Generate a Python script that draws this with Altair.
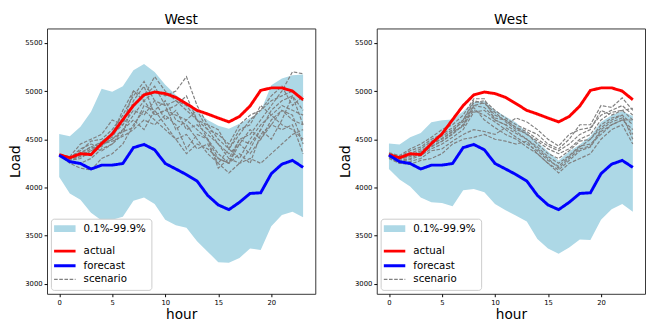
import altair as alt
import pandas as pd

hours = list(range(24))

actual = [4340, 4307, 4350, 4340, 4455, 4555, 4703, 4850, 4960, 4990, 4974, 4934,
          4868, 4800, 4762, 4720, 4680, 4736, 4845, 5007, 5033, 5033, 5000, 4910]
forecast = [4335, 4267, 4248, 4191, 4231, 4231, 4248, 4413, 4446, 4390, 4248, 4191,
            4132, 4066, 3917, 3818, 3769, 3845, 3937, 3944, 4142, 4241, 4280, 4208]

left_hi = [4554, 4531, 4630, 4785, 5023, 4993, 5050, 5215, 5281, 5198, 5066, 4960,
           4880, 4790, 4700, 4640, 4610, 4660, 4720, 4790, 5060, 5130, 5165, 5172]
left_lo = [4109, 3937, 3871, 3736, 3657, 3663, 3696, 3861, 3894, 3828, 3663, 3607,
           3581, 3442, 3333, 3224, 3218, 3267, 3366, 3350, 3597, 3713, 3746, 3690]

right_hi = [4455, 4446, 4521, 4564, 4676, 4696, 4706, 4790, 4884, 4894, 4800, 4736,
            4670, 4571, 4472, 4373, 4280, 4373, 4446, 4530, 4680, 4750, 4790, 4740]
right_lo = [4191, 4083, 4010, 3894, 3845, 3838, 3805, 3970, 3983, 3950, 3828, 3762,
            3706, 3647, 3465, 3366, 3310, 3376, 3459, 3455, 3663, 3772, 3828, 3746]

scen_left = [
    [4340, 4290, 4350, 4420, 4470, 4520, 4700, 4850, 4950, 5150, 5000, 4900, 4850, 4700, 4600, 4450, 4300, 4500, 4550, 4700, 4850, 5000, 5200, 5180],
    [4340, 4280, 4300, 4380, 4440, 4500, 4600, 4750, 4900, 5000, 4950, 5000, 5150, 4850, 4650, 4600, 4400, 4550, 4700, 4800, 4900, 4950, 5000, 4900],
    [4340, 4270, 4250, 4300, 4400, 4450, 4550, 4900, 5050, 4750, 4800, 4750, 4700, 4600, 4500, 4300, 4250, 4450, 4600, 4500, 4700, 4800, 4750, 4450],
    [4340, 4300, 4400, 4450, 4420, 4550, 4650, 4800, 4750, 4900, 4850, 4900, 4800, 4700, 4650, 4500, 4400, 4300, 4500, 4650, 4750, 4850, 4800, 4750],
    [4340, 4250, 4200, 4180, 4300, 4350, 4450, 4650, 4800, 4700, 4600, 4500, 4550, 4400, 4450, 4250, 4150, 4250, 4400, 4600, 4500, 4700, 4950, 4800],
    [4340, 4310, 4380, 4480, 4500, 4600, 4750, 4950, 5100, 4900, 4700, 4800, 4600, 4650, 4550, 4450, 4350, 4450, 4350, 4500, 4650, 4800, 4700, 4650],
    [4340, 4290, 4330, 4400, 4450, 4480, 4530, 4600, 4700, 4650, 4750, 4650, 4400, 4550, 4500, 4200, 4300, 4250, 4300, 4250, 4350, 4450, 4550, 4600],
    [4340, 4280, 4320, 4350, 4480, 4550, 4800, 5000, 4900, 4750, 4800, 4850, 4950, 4700, 4500, 4350, 4250, 4500, 4450, 4600, 4800, 4900, 4950, 4650],
    [4340, 4300, 4360, 4420, 4380, 4450, 4600, 4700, 4600, 4800, 4900, 4700, 4650, 4500, 4350, 4250, 4400, 4600, 4650, 4850, 4750, 4650, 4600, 4500],
    [4340, 4320, 4450, 4500, 4550, 4700, 4650, 5000, 4950, 5050, 4850, 4600, 4700, 4800, 4600, 4550, 4450, 4650, 4750, 4800, 4950, 5050, 4850, 4950],
    [4340, 4300, 4340, 4380, 4450, 4500, 4580, 4620, 4850, 4800, 4650, 4500, 4350, 4450, 4400, 4300, 4250, 4350, 4250, 4550, 4650, 4600, 4650, 4350],
]

scen_right = [
    [4340, 4300, 4330, 4380, 4450, 4500, 4580, 4700, 4880, 4900, 4800, 4720, 4650, 4600, 4550, 4450, 4400, 4500, 4650, 4650, 4850, 4830, 4930, 4800],
    [4330, 4280, 4300, 4350, 4420, 4480, 4550, 4650, 4850, 4880, 4750, 4700, 4620, 4550, 4480, 4400, 4350, 4400, 4500, 4550, 4700, 4780, 4800, 4700],
    [4350, 4320, 4380, 4420, 4500, 4550, 4620, 4700, 4900, 4870, 4780, 4680, 4600, 4560, 4450, 4350, 4300, 4380, 4480, 4500, 4650, 4720, 4750, 4650],
    [4300, 4250, 4270, 4300, 4380, 4400, 4480, 4550, 4600, 4580, 4550, 4620, 4560, 4500, 4420, 4320, 4250, 4330, 4430, 4450, 4550, 4650, 4700, 4600],
    [4360, 4330, 4400, 4450, 4520, 4600, 4650, 4750, 4920, 4920, 4700, 4650, 4720, 4680, 4600, 4500, 4430, 4550, 4600, 4620, 4750, 4800, 4850, 4750],
    [4320, 4270, 4290, 4330, 4400, 4450, 4520, 4600, 4780, 4800, 4700, 4650, 4580, 4500, 4400, 4300, 4200, 4300, 4400, 4430, 4600, 4680, 4720, 4550],
    [4340, 4290, 4320, 4360, 4430, 4480, 4560, 4650, 4800, 4750, 4680, 4600, 4520, 4450, 4380, 4280, 4220, 4320, 4420, 4500, 4620, 4700, 4750, 4500],
    [4310, 4250, 4240, 4280, 4300, 4350, 4450, 4500, 4520, 4550, 4500, 4480, 4450, 4480, 4350, 4250, 4150, 4250, 4300, 4350, 4500, 4600, 4650, 4450],
    [4350, 4310, 4350, 4400, 4480, 4530, 4600, 4680, 4850, 4830, 4720, 4700, 4620, 4580, 4500, 4430, 4380, 4450, 4550, 4600, 4800, 4750, 4800, 4820],
    [4330, 4300, 4330, 4370, 4450, 4510, 4580, 4630, 4830, 4700, 4620, 4550, 4500, 4420, 4350, 4250, 4180, 4280, 4380, 4420, 4580, 4650, 4700, 4700],
]

series_names = ["0.1%-99.9%", "actual", "forecast", "scenario"]
series_colors = ["lightblue", "red", "blue", "gray"]
series_widths = [7, 3, 3, 1.2]
series_dashes = [[1, 0], [1, 0], [1, 0], [3.7, 1.6]]
x_ticks = [0, 5, 10, 15, 20]
y_ticks = [3000, 3500, 4000, 4500, 5000, 5500]

FONT = "DejaVu Sans"


def panel(lo, hi, scen):
    band_df = pd.DataFrame({"hour": hours, "lo": lo, "hi": hi})
    act_df = pd.DataFrame({"hour": hours, "value": actual, "series": "actual"})
    fc_df = pd.DataFrame({"hour": hours, "value": forecast, "series": "forecast"})
    rows = []
    for i, s in enumerate(scen):
        for h, v in zip(hours, s):
            rows.append({"hour": h, "value": v, "sid": i, "series": "scenario"})
    sc_df = pd.DataFrame(rows)

    x = alt.X("hour:Q", scale=alt.Scale(domain=[-1.15, 24.15], nice=False, zero=False),
              axis=alt.Axis(values=x_ticks, format="d", title="hour"))
    yscale = alt.Scale(domain=[2895, 5650], nice=False, zero=False)
    yaxis = alt.Axis(values=y_ticks, format="d", title="Load")
    leg = alt.Legend(title=None, orient="bottom-left", offset=4,
                     symbolType="M-7,0L15,0")
    color = alt.Color("series:N", scale=alt.Scale(type="ordinal", domain=series_names,
                                                  range=series_colors), legend=leg)
    sw = alt.StrokeWidth("series:N", scale=alt.Scale(type="ordinal", domain=series_names,
                                                     range=series_widths), legend=leg)
    sd = alt.StrokeDash("series:N", scale=alt.Scale(type="ordinal", domain=series_names,
                                                    range=series_dashes), legend=leg)

    band = alt.Chart(band_df).mark_area(color="lightblue", opacity=1).encode(
        x=x, y=alt.Y("lo:Q", scale=yscale, axis=yaxis), y2="hi:Q")
    sc = alt.Chart(sc_df).mark_line().encode(
        x=x, y=alt.Y("value:Q", scale=yscale, axis=yaxis), detail="sid:N",
        color=color, strokeWidth=sw, strokeDash=sd)
    act = alt.Chart(act_df).mark_line().encode(
        x=x, y=alt.Y("value:Q", scale=yscale, axis=yaxis),
        color=color, strokeWidth=sw, strokeDash=sd)
    fc = alt.Chart(fc_df).mark_line().encode(
        x=x, y=alt.Y("value:Q", scale=yscale, axis=yaxis),
        color=color, strokeWidth=sw, strokeDash=sd)
    return alt.layer(band, sc, act, fc).properties(width=275, height=272, title="West")


left = panel(left_lo, left_hi, scen_left)
right = panel(right_lo, right_hi, scen_right)

chart = alt.hconcat(left, right, spacing=22).resolve_scale(
    color="independent", strokeWidth="independent", strokeDash="independent"
).resolve_legend(
    color="independent", strokeWidth="independent", strokeDash="independent"
).properties(
    padding={"left": 0, "top": 0, "right": 0, "bottom": 0}
).configure_view(
    stroke="#333333", strokeWidth=1
).configure_axis(
    grid=False, domain=False, labelFont=FONT, titleFont=FONT, labelFontSize=7,
    labelColor="black", tickColor="black", tickSize=3, labelPadding=2,
    titleFontSize=14, titleFontWeight="normal", titleColor="black", titlePadding=2
).configure_title(
    font=FONT, fontSize=14, fontWeight="normal", color="black", offset=2
).configure_legend(
    labelFont=FONT, labelFontSize=10.5, labelColor="black", symbolSize=4,
    labelOffset=18, rowPadding=2, padding=5, fillColor="white",
    strokeColor="#cccccc", cornerRadius=3
)

chart.save("out.html", embed_options={"renderer": "svg", "actions": False})
